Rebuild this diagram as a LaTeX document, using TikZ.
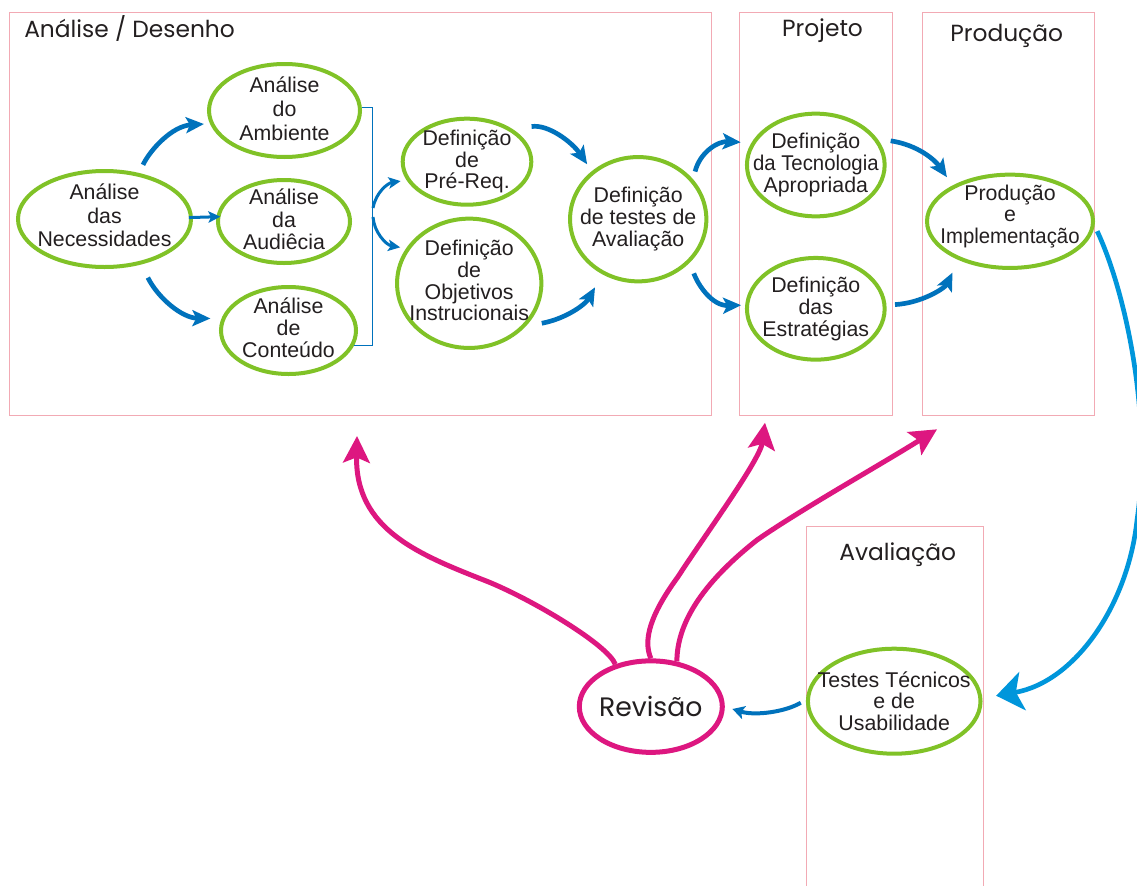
\documentclass[tikz,border=0pt]{standalone}
\usepackage{fontspec}
\setmainfont{Liberation Sans}
\newfontfamily\condfont[FakeStretch=0.954]{Liberation Sans}
\newfontfamily\titlefont{Poppins}
\newcommand\cond[1]{{\fontsize{16pt}{16.5pt}\condfont #1}}
\usetikzlibrary{shapes.geometric,arrows.meta}
\definecolor{ggreen}{RGB}{128,194,39}
\definecolor{dblue}{RGB}{0,114,188}
\definecolor{lblue}{RGB}{0,150,219}
\definecolor{mag}{RGB}{221,23,128}
\definecolor{boxpink}{RGB}{242,170,180}
\definecolor{ink}{RGB}{35,31,32}
\tikzset{
  sz/.style 2 args={minimum width=#1*0.75pt, minimum height=#2*0.75pt},
  gell/.style={ellipse, draw=ggreen, line width=3pt, inner sep=0pt},
  rell/.style={ellipse, draw=mag, line width=3.75pt, inner sep=0pt},
  txt/.style={align=center, text=ink, inner sep=0pt, font=\fontsize{16pt}{#1}\selectfont},
  txt/.default=16.5pt,
  ttl/.style={text=ink, inner sep=0pt, font=\fontsize{17.5pt}{20pt}\selectfont\titlefont},
  lane/.style={draw=boxpink, line width=0.75pt},
  barrow/.style={draw=dblue, line width=3.5pt, -{Stealth[length=13.5pt,width=12pt,inset=3pt]}},
  tarrow/.style={draw=dblue, line width=2.25pt, -{Stealth[length=9pt,width=8.5pt,inset=2pt]}},
  rvarrow/.style={draw=dblue, line width=3pt, -{Stealth[length=9pt,width=10pt,inset=2pt]}},
  larrow/.style={draw=lblue, line width=3.5pt, -{Stealth[length=20pt,width=29pt,inset=5pt]}},
  marrow/.style={draw=mag, line width=3.75pt, -{Stealth[length=20pt,width=20pt,inset=4pt]}},
  brk/.style={draw=dblue, line width=0.75pt},
}
\begin{document}
\begin{tikzpicture}[x=0.75pt,y=-0.75pt]
\useasboundingbox (0,0) rectangle (1137,885);
\fill[white] (0,0) rectangle (1137,885);
\clip (0,0) rectangle (1137,885);

% lanes
\draw[lane] (9,12) rectangle (711,415);
\draw[lane] (739,12) rectangle (892,415);
\draw[lane] (922,12) rectangle (1094,415);
\draw[lane] (806,526) rectangle (983,900);

% titles
\node[ttl, anchor=base west] (tAD) at (24,37) {Análise / Desenho};
\node[ttl, anchor=base] (tPj) at (822.5,36.7) {Projeto};
\node[ttl, anchor=base] (tPd) at (1006.7,41.7) {Produção};
\node[ttl, anchor=base] (tAv) at (897.7,560) {Avaliação};

% ellipses
\node[gell, sz={173}{96}, label={[txt=17.6pt, yshift=2.5pt]center:{Análise\\das\\Necessidades}}] (nec) at (104.5,219) {};
\node[gell, sz={151}{93}, label={[txt=18pt, yshift=1pt]center:{Análise\\do\\Ambiente}}] (amb) at (284.5,110.5) {};
\node[gell, sz={132}{83}, label={[txt=16.9pt, yshift=1.5pt]center:{Análise\\da\\Audiêcia}}] (aud) at (284,221.5) {};
\node[gell, sz={135}{87}, label={[txt=16.6pt, yshift=2pt]center:{Análise\\de\\Conteúdo}}] (con) at (288.5,330.5) {};
\node[gell, sz={128.6}{86}, label={[txt=16.1pt]center:{Definição\\de\\Pré-Req.}}] (pre) at (467,161.7) {};
\node[gell, sz={144.3}{129.3}, label={[txt=16.3pt, yshift=2pt]center:{Definição\\de\\Objetivos\\Instrucionais}}] (obj) at (469.2,283.3) {};
\node[gell, sz={136.3}{124.3}, label={[txt=16.3pt]center:{Definição\\de testes de\\Avaliação}}] (ava) at (638.2,219.2) {};
\node[gell, sz={137.7}{102.7}, label={[txt=16.5pt]center:{Definição\\\cond{da Tecnologia}\\Apropriada}}] (tec) at (815.8,165) {};
\node[gell, sz={137.7}{101.7}, label={[txt=16.5pt]center:{Definição\\das\\Estratégias}}] (est) at (815.8,308.8) {};
\node[gell, sz={166}{93.3}, label={[txt=16.3pt, yshift=3.75pt]center:{Produção\\e\\\cond{Implementação}}}] (prod) at (1010,221.3) {};
\node[gell, sz={172.6}{105}, label={[txt=16.3pt]center:{Testes Técnicos\\e de\\Usabilidade}}] (tes) at (894.2,701.2) {};
\node[rell, sz={143}{91.5}, label={[text=ink, inner sep=0pt, font=\fontsize{20pt}{24pt}\selectfont\titlefont]center:Revisão}] (rev) at (650.8,706.6) {};

% free ends
\coordinate (brkA) at (373,208);
\coordinate (brkB) at (373,217);
\coordinate (dmid) at (1137,520);
\coordinate (tA) at (357,436);
\coordinate (tB) at (765,422.7);
\coordinate (tC) at (937,429.3);

% bracket
\draw[brk] (amb.2) -- ++(11,0) |- (con.-13);

% analysis arrows
\draw[barrow, shorten <=6.75pt, shorten >=4.5pt] (nec.53) .. controls (150,150) and (172,126) .. (amb.190);
\draw[tarrow, shorten <=-3pt, shorten >=-3pt] (nec.1) -- (aud.176);
\draw[barrow, shorten <=11pt, shorten >=8.25pt] (nec.-51) .. controls (158,298) and (182,318) .. (con.170);
\draw[tarrow, shorten >=4.5pt] (brkA) .. controls (376,192) and (388,183) .. (pre.197.6);
\draw[tarrow, shorten >=4.5pt] (brkB) .. controls (374,232) and (386,245) .. (obj.151.6);
\draw[barrow, shorten <=14pt, shorten >=6.2pt] (pre.35) .. controls (548,124) and (572,142) .. (ava.134.4);
\draw[barrow, shorten <=12pt, shorten >=11.2pt] (obj.-37) .. controls (565,319) and (585,305) .. (ava.-123.3);

% design arrows
\draw[barrow, shorten <=6pt, shorten >=8pt] (ava.36) .. controls (700,152) and (718,141) .. (tec.161);
\draw[barrow, shorten <=8.6pt, shorten >=3pt] (ava.-40) .. controls (698,285) and (712,306) .. (est.177);
\draw[barrow, shorten <=10pt, shorten >=7.5pt] (tec.23) .. controls (918,145) and (935,160) .. (prod.148.8);
\draw[barrow, shorten <=6.4pt, shorten >=10.5pt] (est.3.5) .. controls (922,303) and (945,288) .. (prod.-143.2);

% production to evaluation
\draw[larrow, shorten <=4.5pt, shorten >=10.5pt] (prod.-3) .. controls (1127,295) and (1152,420) .. (dmid) .. controls (1128,605) and (1075,682) .. (tes.2);

% evaluation to revision
\draw[rvarrow, shorten <=4.5pt, shorten >=6pt] (tes.179) .. controls (785,712) and (755,716) .. (rev.0);

% revision arrows
\draw[marrow] (rev.130) .. controls (608,645) and (533,600) .. (488,581.7) .. controls (420,555) and (355,530) .. (tA);
\draw[marrow] (rev.90) .. controls (643,640) and (650,615) .. (678,576.7) .. controls (705,535) and (760,460) .. (tB);
\draw[marrow] (rev.60) .. controls (677,625) and (700,585) .. (757,540) .. controls (800,510) and (880,465) .. (tC);
\end{tikzpicture}
\end{document}
